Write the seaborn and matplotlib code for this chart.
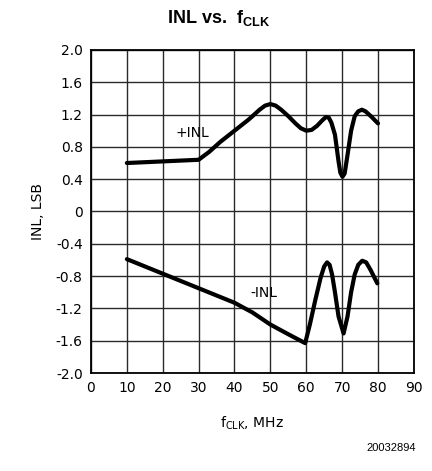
import numpy as np
import pandas as pd
import matplotlib
matplotlib.use("Agg")
import matplotlib.pyplot as plt
import seaborn as sns

# +INL curve
pos_x = [10, 30, 33, 36, 40, 44, 47, 48.5, 50, 51.5, 53, 55, 57, 58.5, 60, 61.5, 63, 64.5, 65.5, 66.3,
         67, 68, 69, 69.5, 70.1, 70.7, 71.5, 72.5, 73.5, 74.5, 75.5, 76.5, 78, 80]
pos_y = [0.60, 0.64, 0.74, 0.86, 1.00, 1.14, 1.26, 1.31, 1.33, 1.31, 1.26, 1.18, 1.09, 1.03, 1.00,
         1.01, 1.06, 1.13, 1.17, 1.16, 1.10, 0.95, 0.62, 0.48, 0.43, 0.47, 0.70, 1.00, 1.18, 1.24,
         1.26, 1.24, 1.18, 1.09]

# -INL curve
neg_x = [10, 20, 30, 40, 45, 50, 55, 59.7, 61, 62.5, 64, 65, 65.8, 66.5, 67.2, 68, 69, 70.4, 71.5,
         72.5, 73.5, 74.5, 75.6, 76.7, 78, 79.8]
neg_y = [-0.59, -0.77, -0.95, -1.13, -1.25, -1.40, -1.52, -1.63, -1.40, -1.10, -0.82, -0.68, -0.63,
         -0.66, -0.78, -1.00, -1.30, -1.51, -1.30, -1.00, -0.78, -0.66, -0.61, -0.63, -0.73, -0.89]

x_ticks = list(range(0, 100, 10))
y_ticks = [-2.0, -1.6, -1.2, -0.8, -0.4, 0, 0.4, 0.8, 1.2, 1.6, 2.0]
y_labels = ["-2.0", "-1.6", "-1.2", "-0.8", "-0.4", "0", "0.4", "0.8", "1.2", "1.6", "2.0"]

sns.set_style("white")
plt.rcParams['font.family'] = ['DejaVu Sans']
plt.rcParams['text.color'] = 'black'
plt.rcParams['axes.labelcolor'] = 'black'
plt.rcParams['mathtext.fontset'] = 'custom'
plt.rcParams['mathtext.rm'] = 'DejaVu Sans'
plt.rcParams['mathtext.bf'] = 'Liberation Sans:bold'

fig = plt.figure(figsize=(4.32, 4.71), dpi=100)
ax = fig.add_axes([0.2106, 0.208, 0.7475, 0.686])

df_pos = pd.DataFrame({"f": pos_x, "inl": pos_y})
df_neg = pd.DataFrame({"f": neg_x, "inl": neg_y})
sns.lineplot(data=df_pos, x="f", y="inl", ax=ax, color="black", linewidth=3.0, sort=False)
sns.lineplot(data=df_neg, x="f", y="inl", ax=ax, color="black", linewidth=3.0, sort=False)

ax.set_xlim(0, 90)
ax.set_ylim(-2.0, 2.0)
ax.set_xticks(x_ticks)
ax.set_yticks(y_ticks)
ax.set_yticklabels(y_labels)
ax.grid(True, color="#2a2a2a", linewidth=1.0)
ax.tick_params(length=0, labelsize=10, colors="black", pad=6)
for s in ax.spines.values():
    s.set_color("black")
    s.set_linewidth(1.3)

ax.text(28.3, 0.97, "+INL", fontsize=10, ha="center", va="center")
ax.text(48.3, -1.01, "-INL", fontsize=10, ha="center", va="center")

ax.set_xlabel(r"f$_{\mathrm{CLK}}$, MHz", fontsize=10, labelpad=14)
ax.set_ylabel("INL, LSB", fontsize=10, labelpad=8)
fig.text(0.505, 0.962, r"$\mathbf{INL\ vs.\ f_{CLK}}$", fontsize=13, ha="center", va="center")
fig.text(0.962, 0.048, "20032894", fontsize=8, ha="right", va="center",
         family="Liberation Sans")

fig.savefig("out.png", dpi=100)
